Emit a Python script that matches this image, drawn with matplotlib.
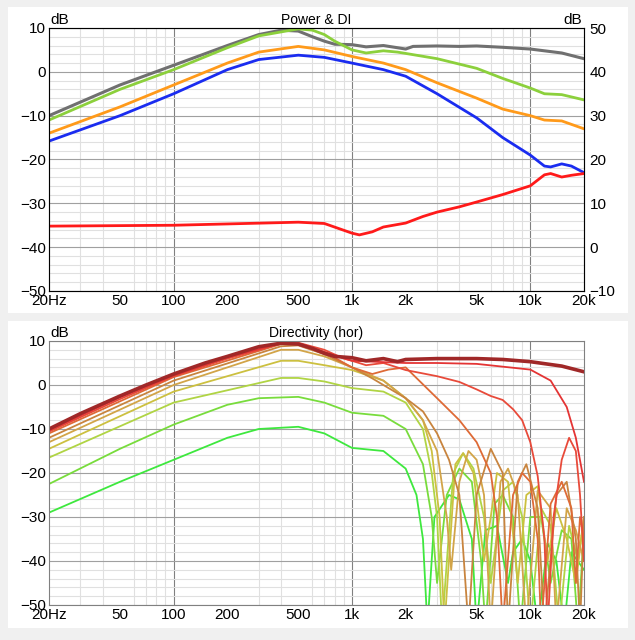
import matplotlib
matplotlib.use('Agg')
import matplotlib.pyplot as plt
from matplotlib.patches import Rectangle
from matplotlib.ticker import FixedLocator, NullFormatter

plt.rcParams['font.family'] = ['Liberation Sans', 'DejaVu Sans']

# ---- Power & DI data (Hz, dB) ----
gray_f = [20, 50, 100, 200, 300, 400, 500, 600, 700, 800, 1000, 1200, 1500, 1800, 2000, 2200, 3000, 4000, 5000, 7000, 10000, 15000, 20000]
gray_db = [-10, -3, 1.5, 6, 8.5, 9.5, 9.3, 8, 7, 6.3, 6.2, 5.7, 6, 5.5, 5.2, 5.8, 5.9, 5.8, 5.9, 5.6, 5.2, 4.3, 3]
green_f = [20, 50, 100, 200, 300, 500, 600, 700, 800, 1000, 1200, 1500, 1800, 2000, 3000, 5000, 7000, 10000, 12000, 15000, 20000]
green_db = [-11, -4, 0.5, 5.5, 8.2, 9.8, 9.5, 8.5, 7, 5, 4.3, 4.8, 4.5, 4.2, 3, 0.8, -1.5, -3.7, -5, -5.2, -6.4]
orange_f = [20, 50, 100, 200, 300, 500, 700, 1000, 1500, 2000, 3000, 5000, 7000, 10000, 12000, 15000, 20000]
orange_db = [-14, -8, -3, 2, 4.5, 5.8, 5, 3.5, 2, 0.5, -2.5, -6, -8.5, -10, -11, -11.2, -13]
blue_f = [20, 50, 100, 200, 300, 500, 700, 1000, 1500, 2000, 3000, 5000, 7000, 10000, 12000, 13000, 15000, 17000, 20000]
blue_db = [-15.8, -10, -5, 0.5, 2.8, 3.8, 3.3, 2, 0.5, -1, -5, -10.5, -15, -19, -21.5, -21.7, -21, -21.5, -23]
di_f = [20, 100, 200, 400, 500, 700, 1000, 1100, 1300, 1500, 2000, 2500, 3000, 4000, 5000, 7000, 10000, 12000, 13000, 15000, 17000, 20000]
di_db = [4.8, 5, 5.3, 5.6, 5.7, 5.4, 3.2, 2.8, 3.5, 4.6, 5.5, 7, 8, 9.2, 10.3, 12, 14, 16.5, 16.8, 16, 16.4, 16.8]

# ---- Directivity (hor) curves ----
c0_f = [20, 30, 50, 70, 100, 150, 200, 300, 400, 500, 600, 700, 800, 1000, 1200, 1500, 1800, 2000, 3000, 5000, 7000, 10000, 15000, 20000]
c0_db = [-10, -6.5, -2.5, 0, 2.5, 5, 6.5, 8.7, 9.5, 9.3, 8.3, 7.2, 6.5, 6.2, 5.5, 6, 5.3, 5.8, 6, 6, 5.8, 5.3, 4.3, 3]
c1_f = [20, 50, 100, 200, 400, 500, 700, 1000, 1500, 2000, 3000, 5000, 10000, 13000, 16000, 18000, 20000]
c1_db = [-10.3, -2.8, 2.2, 6.3, 9.5, 9.5, 7.5, 5.5, 5.2, 5, 5, 4.8, 3.5, 1, -5, -12, -22]
c2_f = [20, 50, 100, 200, 400, 500, 700, 900, 1000, 1200, 1500, 2000, 3000, 4000, 5000, 6000, 7000, 8000, 9000, 10000, 11000, 12000, 12500, 13500, 15000, 16500, 18000, 19000, 20000]
c2_db = [-10.6, -3.2, 2, 6, 9.4, 9.6, 8, 6, 5.5, 4.5, 5, 3.4, 2, 0.7, -1, -2.5, -3.4, -5.5, -8, -13, -20.7, -35, -55, -30, -17, -12, -15, -25, -40]
c3_f = [20, 100, 400, 500, 700, 1000, 1300, 1600, 2000, 3000, 4000, 5000, 6000, 6500, 7000, 8000, 9000, 10000, 11000, 11500, 13000, 15000, 17000, 18000, 19000, 20000]
c3_db = [-11, 1.8, 9.3, 9.5, 7.5, 4, 2.5, 3.5, 4, -3, -8, -13, -20, -30, -55, -25, -20, -22, -35, -55, -27, -22, -28, -45, -30, -35]
c4_f = [20, 100, 400, 500, 700, 1000, 1300, 1500, 2000, 2500, 3000, 3500, 4000, 4500, 5000, 6000, 7000, 7500, 8500, 9500, 11000, 12000, 14000, 16000, 18000, 19000, 20000]
c4_db = [-12, 1, 8.8, 9, 7, 4, 1.5, 0, -3, -6, -11, -17, -25, -55, -25, -14.5, -20, -55, -22, -18, -28, -55, -25, -22, -35, -55, -30]
c5_f = [20, 100, 400, 500, 700, 1000, 1500, 2000, 2500, 3000, 3400, 3600, 4000, 4500, 5000, 5500, 6000, 6800, 7500, 8500, 9500, 11000, 13000, 14000, 16000, 18000, 20000]
c5_db = [-13, 0, 8, 8, 6.5, 4, 1, -3, -8, -15, -30, -42, -22, -15, -17, -25, -55, -22, -19, -25, -55, -24, -28, -55, -28, -33, -40]
c6_f = [20, 100, 400, 500, 700, 1000, 1500, 2000, 2500, 2800, 3100, 3300, 3800, 4200, 4800, 5500, 6000, 6500, 7500, 8500, 9500, 11000, 12500, 14000, 16000, 18000, 20000]
c6_db = [-14.5, -1.5, 5.5, 5.5, 4.5, 3.4, 1, -3, -8, -15, -30, -55, -18, -15.5, -20, -40, -30, -20, -22, -45, -25, -23, -40, -28, -35, -45, -30]
c7_f = [20, 100, 400, 500, 700, 1000, 1500, 2000, 2500, 2800, 3000, 3200, 3700, 4200, 4800, 5500, 6000, 7000, 8000, 9000, 10000, 11500, 13000, 14500, 16500, 18500, 20000]
c7_db = [-16.5, -4, 1.6, 1.6, 0.8, -0.7, -1.5, -4, -10, -20, -30, -55, -20, -15.5, -19, -30, -45, -24, -22, -30, -55, -28, -32, -55, -32, -40, -30]
c8_f = [20, 50, 100, 200, 300, 500, 700, 1000, 1500, 2000, 2500, 2800, 3000, 3400, 4000, 4700, 5300, 5600, 6300, 7000, 8000, 8800, 10000, 11500, 13000, 15000, 17000, 18500, 20000]
c8_db = [-22.5, -14.5, -9, -4.5, -3, -2.7, -4, -6.3, -7, -10, -18, -30, -45, -25, -19, -22, -40, -55, -27, -25, -30, -55, -30, -30, -45, -33, -35, -55, -33]
c9_f = [20, 50, 100, 200, 300, 500, 700, 1000, 1500, 2000, 2300, 2500, 2650, 2900, 3500, 4000, 4700, 5000, 5600, 6500, 7500, 8000, 9000, 10000, 11000, 12500, 14000, 15500, 17000, 20000]
c9_db = [-29, -22, -17, -12, -10, -9.5, -11, -14.3, -15, -19, -25, -35, -55, -30, -25, -26, -35, -55, -33, -32, -45, -38, -35, -40, -55, -36, -40, -55, -38, -42]

dir_curves = [(c9_f, c9_db), (c8_f, c8_db), (c7_f, c7_db), (c6_f, c6_db), (c5_f, c5_db),
              (c4_f, c4_db), (c3_f, c3_db), (c2_f, c2_db), (c1_f, c1_db), (c0_f, c0_db)]
dir_colors = ['#3ee83e', '#78dc3c', '#b0d444', '#ccc040', '#d2a448',
              '#c8843e', '#de6a36', '#e84a3a', '#e43434', '#a02828']

xticks = [20, 50, 100, 200, 500, 1000, 2000, 5000, 10000, 20000]
xticklabels = ['20Hz', '50', '100', '200', '500', '1k', '2k', '5k', '10k', '20k']

fig = plt.figure(figsize=(6.35, 6.4), dpi=100)
fig.patch.set_facecolor('#f0f0f0')
fig.add_artist(Rectangle((8 / 635, 1 - 313 / 640), 620 / 635, 306 / 640, transform=fig.transFigure,
                         facecolor='white', edgecolor='none', zorder=0))
fig.add_artist(Rectangle((8 / 635, 1 - 628 / 640), 620 / 635, 307 / 640, transform=fig.transFigure,
                         facecolor='white', edgecolor='none', zorder=0))

minor = [m * d for d in (10, 100, 1000, 10000) for m in range(2, 10) if 20 <= m * d <= 20000]


def style(ax, title):
    ax.set_xscale('log')
    ax.set_xlim(20, 20000)
    ax.set_ylim(-50, 10)
    ax.xaxis.set_major_locator(FixedLocator(xticks))
    ax.set_xticklabels(xticklabels)
    ax.xaxis.set_minor_locator(FixedLocator(minor))
    ax.xaxis.set_minor_formatter(NullFormatter())
    ax.set_yticks(range(-50, 11, 10))
    ax.set_yticks(range(-50, 11, 2), minor=True)
    ax.grid(which='minor', color='#e0e0e0', lw=0.8)
    ax.grid(which='major', axis='y', color='#a0a0a0', lw=0.8)
    for x in (100, 1000, 10000):
        ax.axvline(x, color='#808080', lw=0.8, zorder=1)
    ax.tick_params(which='both', length=0, labelsize=11, pad=2)
    for s in ax.spines.values():
        s.set_color('#808080')
    ax.set_title(title, fontsize=10, pad=3)
    ax.text(0.003, 1.005, 'dB', transform=ax.transAxes, fontsize=11, va='bottom')


ax1 = fig.add_axes([49 / 635, 1 - 291 / 640, 535 / 635, 263 / 640])
style(ax1, 'Power & DI')
ax1.plot(gray_f, gray_db, color='#707070', lw=2.2)
ax1.plot(green_f, green_db, color='#8cd03c', lw=2)
ax1.plot(orange_f, orange_db, color='#ff9a1a', lw=2)
ax1.plot(blue_f, blue_db, color='#1a2cf0', lw=2)
ax2 = ax1.twinx()
ax2.set_ylim(-10, 50)
ax2.set_yticks(range(-10, 51, 10))
ax2.tick_params(length=0, labelsize=11, pad=4)
ax2.plot(di_f, di_db, color='#ff1a1a', lw=2)
ax2.text(0.997, 1.005, 'dB', transform=ax2.transAxes, fontsize=11, va='bottom', ha='right')

ax3 = fig.add_axes([49 / 635, 1 - 605 / 640, 535 / 635, 264 / 640])
style(ax3, 'Directivity (hor)')
for (f, db), c in zip(dir_curves, dir_colors):
    ax3.plot(f, db, color=c, lw=2.6 if c == '#a02828' else 1.3)

fig.savefig('out.png', dpi=100, facecolor=fig.get_facecolor())
